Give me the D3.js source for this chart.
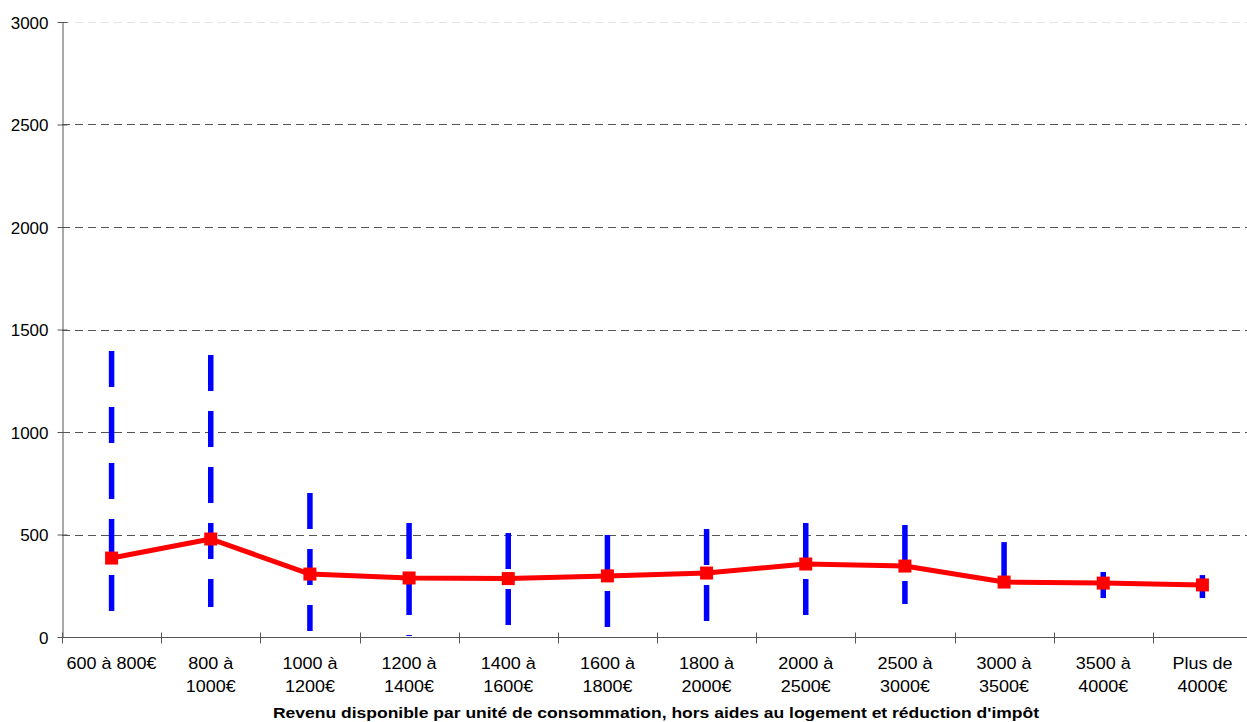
<!DOCTYPE html>
<html><head><meta charset="utf-8">
<script src="https://cdn.jsdelivr.net/npm/d3@7"></script>
<style>
html,body{margin:0;padding:0;background:#fff;}
svg text{font-family:"Liberation Sans",Arial,sans-serif;fill:#000;}
</style></head>
<body>
<svg id="chart" width="1247" height="722"></svg>
<script>
const categories = [
  "600 à 800€", "800 à|1000€", "1000 à|1200€", "1200 à|1400€", "1400 à|1600€",
  "1600 à|1800€", "1800 à|2000€", "2000 à|2500€", "2500 à|3000€", "3000 à|3500€",
  "3500 à|4000€", "Plus de|4000€"
];
const maxVals  = [1395, 1376, 702, 556, 507, 498, 527, 556, 546, 463, 317, 302];
const minVals  = [122, 146, 29, 5, 59, 49, 78, 107, 161, 250, 190, 190];
const meanVals = [385, 478, 307, 288, 285, 298, 312, 356, 346, 268, 263, 254];
const yTicks = [0, 500, 1000, 1500, 2000, 2500, 3000];
const xTitle = "Revenu disponible par unité de consommation, hors aides au logement et réduction d'impôt";

const svg = d3.select("#chart");
const x = d3.scaleBand().domain(categories).range([62, 1252]);
const y = d3.scaleLinear().domain([0, 3000]).range([637, 22]);

// gridlines
svg.append("g").selectAll("line").data(yTicks.filter(d => d > 0)).join("line")
  .attr("x1", 62).attr("x2", 1252)
  .attr("y1", d => Math.round(y(d)) + 0.5).attr("y2", d => Math.round(y(d)) + 0.5)
  .attr("stroke", d => d === 3000 ? "#e4e4e4" : "#555")
  .attr("stroke-width", 1)
  .attr("stroke-dasharray", "8,5");

// y axis
const yAxis = d3.axisLeft(y).tickValues(yTicks).tickSize(0).tickPadding(14).tickFormat(d3.format("d"));
const gy = svg.append("g").attr("transform", "translate(62.5,0)").call(yAxis);
gy.select(".domain").attr("stroke", "#555");
gy.selectAll(".tick text").attr("font-size", 17).attr("dy", "0.38em")
  .attr("font-family", "Liberation Sans, Arial, sans-serif");
gy.selectAll(".tick").append("line").attr("x1", -5).attr("x2", 5).attr("stroke", "#555");

// x axis
const gx = svg.append("g").attr("transform", "translate(0,637.5)");
gx.append("line").attr("x1", 62).attr("x2", 1252).attr("stroke", "#555");
const bounds = categories.map(c => x(c)).concat([x.range()[1]]);
gx.selectAll("line.tk").data(bounds).join("line").attr("class", "tk")
  .attr("x1", d => Math.round(d) + 0.5).attr("x2", d => Math.round(d) + 0.5)
  .attr("y1", -5).attr("y2", 6).attr("stroke", "#555");
const lbl = gx.selectAll("text").data(categories).join("text")
  .attr("transform", d => `translate(${x(d) + x.bandwidth() / 2},31) scale(1.06,1)`)
  .attr("text-anchor", "middle")
  .attr("font-size", 17);
lbl.each(function(d) {
  const lines = d.split("|");
  d3.select(this).selectAll("tspan").data(lines).join("tspan")
    .attr("x", 0)
    .attr("dy", (l, i) => i === 0 ? 0 : 24)
    .text(l => l);
});

svg.append("text").attr("transform", "translate(656,718) scale(1.13,1)")
  .attr("text-anchor", "middle")
  .attr("font-size", 15.5).attr("font-weight", "bold").text(xTitle);

// range lines (max to min), dashed
const cx = i => x(categories[i]) + x.bandwidth() / 2;
svg.append("g").selectAll("line").data(categories).join("line")
  .attr("x1", (d, i) => cx(i)).attr("x2", (d, i) => cx(i))
  .attr("y1", (d, i) => y(maxVals[i])).attr("y2", (d, i) => y(minVals[i]))
  .attr("stroke", "#0000ff").attr("stroke-width", 5.5)
  .attr("stroke-dasharray", "36,20");

// mean line
const line = d3.line().x((d, i) => cx(i)).y(d => y(d));
svg.append("path").datum(meanVals).attr("d", line)
  .attr("fill", "none").attr("stroke", "#ff0000").attr("stroke-width", 5)
  .attr("stroke-linejoin", "round");
svg.append("g").selectAll("rect").data(meanVals).join("rect")
  .attr("x", (d, i) => cx(i) - 6.5).attr("y", d => y(d) - 6.5)
  .attr("width", 13).attr("height", 13).attr("fill", "#ff0000");
</script>
</body></html>
